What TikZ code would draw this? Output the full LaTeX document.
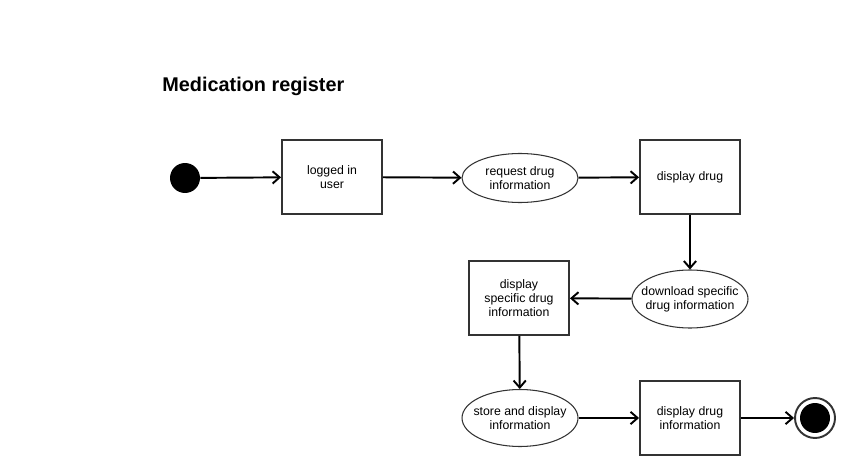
\documentclass[tikz,border=0pt]{standalone}
\usepackage{fontspec}
\setmainfont{Liberation Sans}
\usepackage{tikz}
\usetikzlibrary{shapes,arrows,positioning,calc,arrows.meta}

\begin{document}
\begin{tikzpicture}[x=0.02cm, y=-0.02cm,
    activity/.style={draw=black!80, line width=1.1pt, minimum width=2cm, minimum height=1.48cm, align=center, font=\fontsize{7}{8}\selectfont},
    action/.style={ellipse, draw=black!80, line width=0.6pt, minimum width=2.32cm, minimum height=0.98cm, inner xsep=-10pt, inner ysep=0pt, align=center, font=\fontsize{7}{8}\selectfont},
    flow/.style={-{Straight Barb[length=4pt,width=7pt]}, line width=1.1pt}]
    \useasboundingbox (0,0) rectangle (855,476);

    % title
    \node[anchor=base west, font=\bfseries\fontsize{11.3}{13}\selectfont, inner sep=0pt] (title) at (162,92) {Medication register};

    % top row
    \node[circle, fill=black, minimum size=0.6cm, inner sep=0pt] (start) at (185,178) {};
    \node[activity] (logged) at (332,177) {logged in\\user};
    \node[action] (request) at (520,178) {request drug\\information};
    \node[activity] (display) at (690,177) {display drug};

    % middle row
    \node[action, minimum height=1.16cm] (download) at (690,299) {download specific\\drug information};
    \node[activity] (specific) at (519,298) {display\\specific drug\\information};

    % bottom row
    \node[action, minimum height=1.14cm] (store) at (520,418) {store and display\\information};
    \node[activity] (info) at (690,418) {display drug\\information};
    \node[circle, draw=black!80, line width=1.1pt, minimum size=0.8cm] (end) at (815,418) {};
    \node[circle, fill=black, minimum size=0.6cm, inner sep=0pt] at (end) {};

    \draw[flow] (start) -- (logged);
    \draw[flow] (logged) -- (request);
    \draw[flow] (request) -- (display);
    \draw[flow] (display) -- (download);
    \draw[flow] (download) -- (specific);
    \draw[flow] (specific) -- (store);
    \draw[flow] (store) -- (info);
    \draw[flow] (info) -- (end);
\end{tikzpicture}
\end{document}
